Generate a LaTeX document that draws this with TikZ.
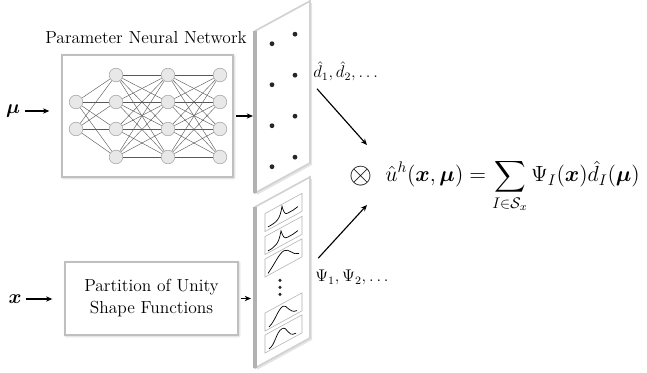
\documentclass[tikz,border=0pt]{standalone}
\usepackage{fix-cm}
\usepackage{amsmath,amssymb,bm}
\usetikzlibrary{arrows.meta,positioning,shadows.blur}
\newcommand{\lblfont}{\fontsize{12.4}{15.6}\selectfont}
\newcommand{\fmfont}{\fontsize{15.6}{18}\selectfont}
\newcommand{\smfont}{\fontsize{12}{14}\selectfont}
\newcommand{\symfont}{\fontsize{14}{16}\selectfont}

\begin{document}
\begin{tikzpicture}[x=0.025cm, y=-0.025cm,
  neuron/.style={circle, draw=gray!70, fill=gray!18, line width=0.4pt, minimum size=0.34cm, inner sep=0pt},
  wire/.style={gray!70!black, line width=0.3pt},
  box/.style={draw=gray!50, line width=0.9pt, fill=white, blur shadow={shadow blur steps=5, shadow xshift=0.6pt, shadow yshift=-0.6pt, shadow opacity=30}},
  arr/.style={-{Stealth[length=4.5pt,width=3.8pt]}, line width=0.8pt},
  panel/.style={fill=white, draw=gray!35, line width=1.2pt},
  edge/.style={gray!60, line width=2.2pt},
  cell/.style={draw=gray!60, line width=0.4pt},
  curve/.style={line width=0.5pt},
  dotm/.style={circle, fill=black!85, inner sep=0pt, minimum size=3.4pt},
  vdot/.style={circle, fill=black!85, inner sep=0pt, minimum size=2.4pt}
]
\useasboundingbox (0,0) rectangle (647,373);

% parameter network
\node[font=\lblfont, anchor=base] (nntitle) at (146,43.5) {Parameter Neural Network};
\node[box, minimum width=4.275cm, minimum height=3.05cm] (nnbox) at (147.5,116) {};
\foreach \y [count=\i] in {102,129} \node[neuron] (a\i) at (76,\y) {};
\foreach \y [count=\i] in {75,102,129,157} {
  \node[neuron] (b\i) at (116,\y) {};
  \node[neuron] (c\i) at (168,\y) {};
  \node[neuron] (d\i) at (220,\y) {};
}
\foreach \i in {1,2} \foreach \j in {1,...,4} \draw[wire] (a\i) -- (b\j);
\foreach \i in {1,...,4} \foreach \j in {1,...,4} {
  \draw[wire] (b\i) -- (c\j);
  \draw[wire] (c\i) -- (d\j);
}

% shape function box
\node[box, align=center, font=\lblfont, minimum width=4.325cm, minimum height=1.825cm] (pubox) at (151.5,298.5) {Partition of Unity\\Shape Functions};

% inputs
\node[font=\symfont] (mu) at (13,111) {$\bm{\mu}$};
\node[font=\symfont] (xin) at (15,299) {$\bm{x}$};
\draw[arr, shorten >=0.3cm] (mu.east) -- (mu.east -| nnbox.west);
\draw[arr, shorten >=0.3cm] (xin.east) -- (xin.east -| pubox.west);

% coefficient panel
\begin{scope}[shift={(255,31)}, yslant=0.5455]
  \fill[gray!20] (2,3) rectangle (57,165);
  \draw[panel] (0,0) rectangle (55,162);
  \draw[edge] (0,0) -- (0,162);
  \foreach \k in {0,...,3} {
    \node[dotm] at (17,22+41*\k) {};
    \node[dotm] at (40,25+41*\k) {};
  }
\end{scope}
\coordinate (dpin) at (253,116);

% shape function panel
\begin{scope}[shift={(255,207)}, yslant=0.5455]
  \fill[gray!20] (2,3) rectangle (57,164);
  \draw[panel] (0,0) rectangle (55,161);
  \draw[edge] (0,0) -- (0,161);
  \foreach \t in {12,35,57.5,111.5,133.5} \draw[cell] (10,\t) rectangle (47,\t+18);
  \draw[curve, shift={(10,12)}] (3,15) .. controls (12,15) and (15,14) .. (17,2) .. controls (19,10) and (20,12) .. (23,12) .. controls (27,12) and (30,12) .. (33,11);
  \draw[curve, shift={(10,35)}] (3,16) .. controls (11,16) and (14,14) .. (16,3) .. controls (18,10) and (19,13) .. (23,13) .. controls (27,13) and (30,13) .. (33,12);
  \draw[curve, shift={(10,57.5)}] (3,16) .. controls (10,10) and (14,2) .. (19,2) .. controls (24,2) and (28,12) .. (34,13);
  \draw[curve, shift={(10,111.5)}] (4,16) .. controls (10,14) and (13,3) .. (18,3) .. controls (22,3) and (24,14) .. (32,15);
  \draw[curve, shift={(10,133.5)}] (4,16) .. controls (10,16) and (11,3) .. (17,3) .. controls (23,3) and (22,15) .. (31,15);
  \foreach \d in {87,94,101} \node[vdot] at (25,\d) {};
\end{scope}
\coordinate (ppin) at (251,298.5);

\draw[arr, shorten <=2pt] (nnbox.east) -- (dpin);
\draw[arr, shorten <=2pt] (pubox.east) -- (ppin);

% labels and product
\node[font=\smfont, anchor=base west, inner sep=0pt] (dlab) at (313,78) {$\hat d_1,\hat d_2,\ldots$};
\node[font=\smfont, anchor=base west, inner sep=0pt] (plab) at (315,282) {$\Psi_1,\Psi_2,\ldots$};
\node[font=\fontsize{21}{24}\selectfont, anchor=center] (otimes) at (361,176) {$\otimes$};
\node[font=\fmfont, anchor=base west, inner sep=0pt] (uh) at (385,182) {$\displaystyle \hat u^h(\bm{x},\bm{\mu}) = \sum_{I\in\mathcal{S}_x}\Psi_I(\bm{x})\hat d_I(\bm{\mu})$};
\coordinate (dtip) at (367,145);
\coordinate (ptip) at (367,205);
\draw[arr] ([xshift=0.1cm, yshift=-0.18cm]dlab.south west) -- (dtip);
\draw[arr] ([xshift=0.08cm, yshift=0.3cm]plab.north west) -- (ptip);
\end{tikzpicture}
\end{document}
